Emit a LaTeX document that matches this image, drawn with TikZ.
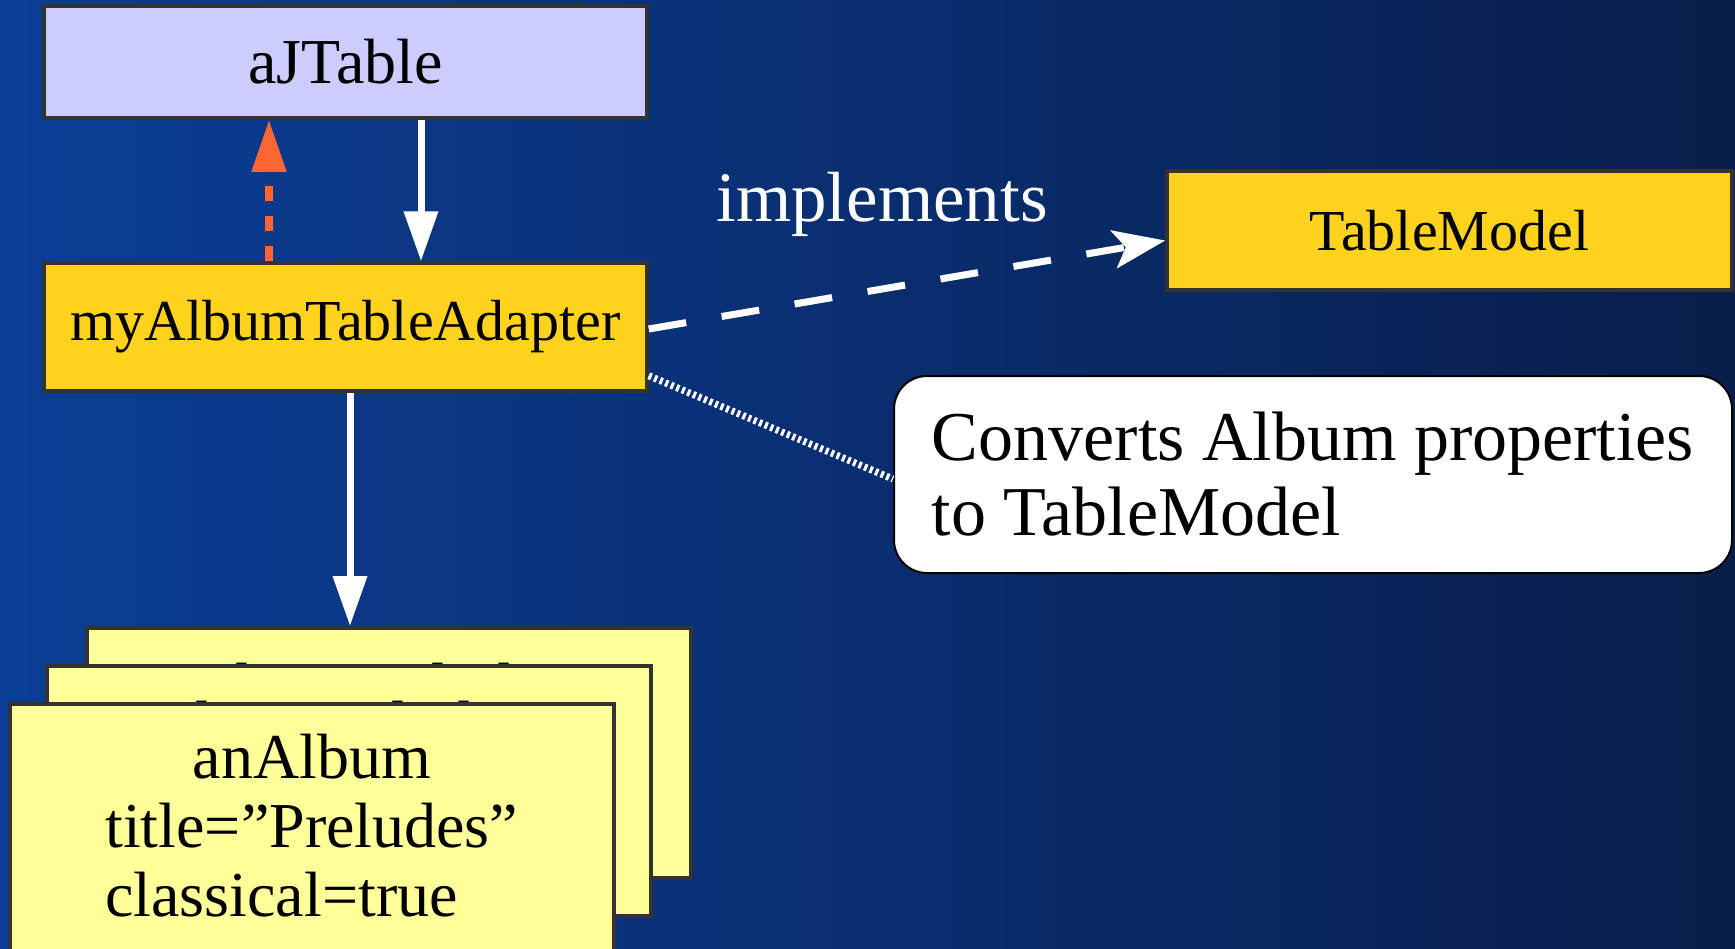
\documentclass[tikz,border=0pt]{standalone}
\usepackage{fontspec}
\setmainfont{Liberation Serif}
\usetikzlibrary{arrows.meta,positioning}
\definecolor{bgleft}{RGB}{11,62,150}
\definecolor{bgright}{RGB}{9,30,74}
\definecolor{lavender}{RGB}{204,204,255}
\definecolor{gold}{RGB}{255,210,30}
\definecolor{paleyellow}{RGB}{255,255,153}
\definecolor{boxline}{RGB}{51,51,51}
\definecolor{hotorange}{RGB}{255,102,51}

\begin{document}
\begin{tikzpicture}[x=1pt,y=-1pt,
  objbox/.style={draw=boxline,line width=3.5pt,inner sep=0pt,
    font=\fontsize{58}{64}\selectfont},
  card/.style={draw=boxline,line width=3.5pt,fill=paleyellow,
    minimum width=604pt,minimum height=250pt,anchor=north west},
  cardtext/.style={anchor=base,inner sep=0pt,
    font=\fontsize{64}{69}\selectfont},
  flow/.style={white,line width=7pt,-{Triangle[length=50pt,width=33pt]}}]
\useasboundingbox (0,0) rectangle (1735,948);
\shade[left color=bgleft,right color=bgright] (0,0) rectangle (1735,948);

\node[objbox,fill=lavender,minimum width=603pt,minimum height=112pt,
  font=\fontsize{64}{70}\selectfont] (aJTable) at (345.5,62) {aJTable};
\node[objbox,fill=gold,minimum width=603pt,minimum height=128pt]
  (adapter) at (345.5,327) {myAlbumTableAdapter};
\node[objbox,fill=gold,minimum width=565pt,minimum height=119pt]
  (tmodel) at (1449.5,230.5) {TableModel};
\node[draw=black,line width=2pt,fill=white,rounded corners=33pt,
  minimum width=838pt,minimum height=197pt,align=left,
  font=\fontsize{70}{75}\selectfont] (note) at (1313,474.5)
  {Converts Album properties\\to TableModel};
\node[text=white,anchor=base,font=\fontsize{71}{75}\selectfont]
  (impl) at (882,221) {implements};

\node[card] (album3) at (85,626) {};
\node[cardtext] (title3) at ([yshift=-81pt]album3.north) {title=”Preludes”};
\node[card] (album2) at (45,664) {};
\node[cardtext] (title2) at ([yshift=-81pt]album2.north) {title=”Preludes”};
\node[card,minimum height=270pt] (album1) at (8,702) {};
\node[cardtext] (info1) at ([yshift=-76pt]album1.north)
  {\begin{tabular}[t]{@{}l@{}}
   \multicolumn{1}{@{}c@{}}{anAlbum}\\
   title=”Preludes”\\
   classical=true
   \end{tabular}};

\draw[hotorange,line width=8pt,dash pattern=on 15pt off 15pt,
  -{Triangle[length=52pt,width=33pt]}]
  ([xshift=-76.5pt]adapter.north) -- ([xshift=-76.5pt]aJTable.south);
\draw[flow] ([xshift=75.5pt]aJTable.south) -- ([xshift=75.5pt]adapter.north);
\draw[flow] ([xshift=4.5pt]adapter.south)
  -- ([xshift=4.5pt]adapter.south |- album3.north);
\draw[white,line width=7pt,dash pattern=on 38pt off 36pt,
  -{Stealth[length=52pt,width=38pt,inset=12pt]}]
  ([yshift=-2pt]adapter.east) -- ([yshift=-10pt]tmodel.west);
\draw[white,line width=7pt,dash pattern=on 3pt off 3pt]
  ([yshift=17pt]adapter.south east) -- ([yshift=-4.5pt]note.west);
\end{tikzpicture}
\end{document}
